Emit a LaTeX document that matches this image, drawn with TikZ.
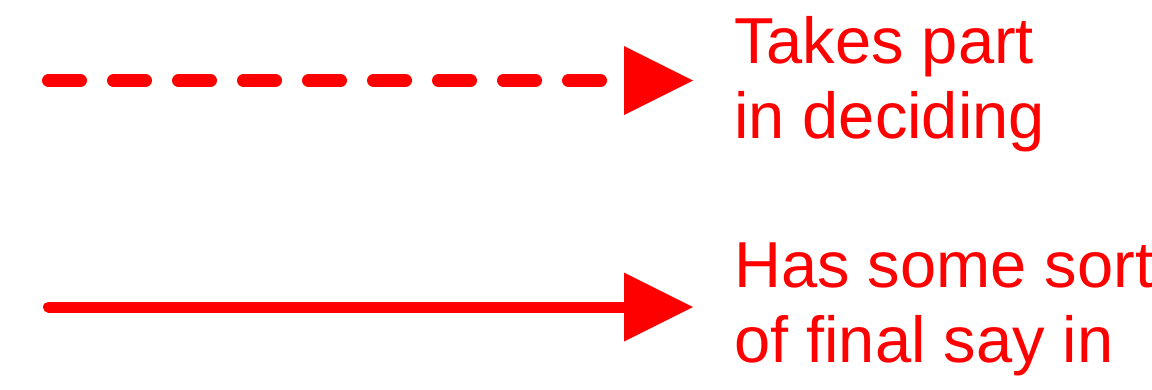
\documentclass[tikz,border=0pt]{standalone}
\usepackage{fontspec}
\setmainfont{Liberation Sans}
\usetikzlibrary{arrows.meta}
\tikzset{
    legendline/.style={line width=13pt, red, line cap=round, -{Triangle[length=69pt, width=69pt, line width=0pt]}},
    takespart/.style={legendline, dash pattern=on 32pt off 33pt},
    finalsay/.style={legendline, line width=11pt},
    legendtext/.style={anchor=north west, inner sep=0pt, align=left, text=red, font=\fontsize{65}{75}\selectfont}
}
\begin{document}
\begin{tikzpicture}[x=1pt, y=-1pt]
    \useasboundingbox (0,0) rectangle (1152,389);

    % Dashed legend entry
    \coordinate (dashstart) at (48.5,80.5);
    \coordinate (dashend) at (693,80.5);
    \draw[takespart] (dashstart) -- (dashend);
    \node[legendtext] (dashlabel) at (734,16.5) {Takes part\\in deciding};

    % Solid legend entry
    \coordinate (solidstart) at (48.5,307);
    \coordinate (solidend) at (693,307);
    \draw[finalsay] (solidstart) -- (solidend);
    \node[legendtext] (solidlabel) at (734,242.5) {Has some sort\\of final say in};
\end{tikzpicture}
\end{document}
